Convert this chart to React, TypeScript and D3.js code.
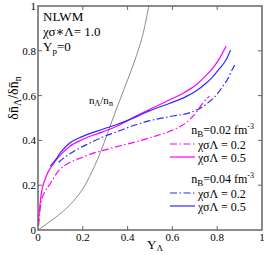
import * as d3 from "d3";

const xTicks = [0, 0.2, 0.4, 0.6, 0.8, 1];
const yTicks = [0, 0.2, 0.4, 0.6, 0.8, 1];
const xTickLabels = ["0", "0.2", "0.4", "0.6", "0.8", "1"];
const yTickLabels = ["0", "0.2", "0.4", "0.6", "0.8", "1"];

// n_B = 0.02, chi = 0.5 (magenta solid)
const magSolidX = [0.002, 0.013, 0.036, 0.065, 0.1, 0.14, 0.2, 0.289, 0.35, 0.45, 0.586, 0.65, 0.705, 0.75, 0.78, 0.81, 0.84];
const magSolidY = [0.04, 0.15, 0.238, 0.29, 0.335, 0.372, 0.405, 0.438, 0.462, 0.515, 0.58, 0.612, 0.647, 0.69, 0.722, 0.765, 0.821];
// n_B = 0.02, chi = 0.2 (magenta dash-dot)
const magDashX = [0.003, 0.013, 0.03, 0.05, 0.095, 0.14, 0.2, 0.244, 0.3, 0.363, 0.45, 0.52, 0.586, 0.64, 0.675, 0.71, 0.735, 0.765];
const magDashY = [0.02, 0.12, 0.17, 0.2, 0.268, 0.3, 0.325, 0.342, 0.358, 0.375, 0.397, 0.418, 0.44, 0.465, 0.491, 0.53, 0.565, 0.598];
// n_B = 0.04, chi = 0.5 (blue solid)
const blueSolidX = [0.055, 0.08, 0.1, 0.14, 0.2, 0.289, 0.35, 0.4375, 0.5, 0.586, 0.65, 0.705, 0.75, 0.78, 0.81, 0.839, 0.86];
const blueSolidY = [0.285, 0.315, 0.345, 0.387, 0.418, 0.45, 0.47, 0.505, 0.533, 0.565, 0.59, 0.62, 0.655, 0.684, 0.72, 0.759, 0.804];
// n_B = 0.04, chi = 0.2 (blue dash-dot)
const blueDashX = [0.092, 0.12, 0.17, 0.22, 0.289, 0.348, 0.4375, 0.5, 0.586, 0.69, 0.73, 0.765, 0.8, 0.824, 0.85, 0.869, 0.878];
const blueDashY = [0.302, 0.325, 0.357, 0.383, 0.415, 0.437, 0.47, 0.488, 0.506, 0.528, 0.547, 0.573, 0.607, 0.64, 0.68, 0.72, 0.737];
// n_Lambda / n_n (gray)
const ratioX = [0, 0.07, 0.14, 0.21, 0.25, 0.28, 0.31, 0.35, 0.4, 0.44, 0.47, 0.495];
const ratioY = [0, 0.05, 0.11, 0.2, 0.28, 0.35, 0.43, 0.54, 0.67, 0.78, 0.88, 1.0];

const W = 266;
const H = 255;
const L = 38, R = 262, T = 6, B = 230;
const FONT = "'Liberation Serif', 'DejaVu Serif', serif";
const MAG = "#ff00ff";
const BLUE = "#2a2aff";
const DASH = "7,2.5,1.5,2.5";

export default function App() {
  const x = d3.scaleLinear().domain([0, 1]).range([L, R]);
  const y = d3.scaleLinear().domain([0, 1]).range([B, T]);
  const line = d3
    .line<[number, number]>()
    .x((d) => x(d[0]))
    .y((d) => y(d[1]))
    .curve(d3.curveMonotoneX);
  const pts = (xs: number[], ys: number[]) => xs.map((v, i) => [v, ys[i]] as [number, number]);

  const series = [
    { xs: ratioX, ys: ratioY, color: "#707070", dash: undefined, w: 0.8 },
    { xs: magDashX, ys: magDashY, color: MAG, dash: DASH, w: 1.2 },
    { xs: blueDashX, ys: blueDashY, color: BLUE, dash: DASH, w: 1.2 },
    { xs: magSolidX, ys: magSolidY, color: MAG, dash: undefined, w: 1.2 },
    { xs: blueSolidX, ys: blueSolidY, color: BLUE, dash: undefined, w: 1.2 },
  ];

  const legend = [
    { head: "0.02", items: [{ color: MAG, dash: DASH, v: "0.2" }, { color: MAG, dash: undefined, v: "0.5" }], top: 134 },
    { head: "0.04", items: [{ color: BLUE, dash: DASH, v: "0.2" }, { color: BLUE, dash: undefined, v: "0.5" }], top: 183 },
  ];

  const axisColor = "#666";

  return (
    <svg width={W} height={H} style={{ position: "absolute", left: 0, top: 0, background: "#fff" }} fontFamily={FONT}>
      <defs>
        <clipPath id="plot">
          <rect x={L} y={T} width={R - L} height={B - T} />
        </clipPath>
      </defs>
      <g clipPath="url(#plot)">
        {series.map((s, i) => (
          <path key={i} d={line(pts(s.xs, s.ys)) || ""} fill="none" stroke={s.color} strokeWidth={s.w} strokeDasharray={s.dash} />
        ))}
      </g>
      <rect x={L} y={T} width={R - L} height={B - T} fill="none" stroke={axisColor} strokeWidth={1.5} />
      {xTicks.slice(1, -1).map((t) => (
        <g key={"xt" + t}>
          <line x1={x(t)} x2={x(t)} y1={B} y2={B - 4} stroke={axisColor} />
          <line x1={x(t)} x2={x(t)} y1={T} y2={T + 4} stroke={axisColor} />
        </g>
      ))}
      {yTicks.slice(1, -1).map((t) => (
        <g key={"yt" + t}>
          <line x1={L} x2={L + 4} y1={y(t)} y2={y(t)} stroke={axisColor} />
          <line x1={R} x2={R - 4} y1={y(t)} y2={y(t)} stroke={axisColor} />
        </g>
      ))}
      {xTicks.map((t, i) => (
        <text key={"xl" + t} x={x(t)} y={B + 11} fontSize={11} textAnchor="middle">
          {xTickLabels[i]}
        </text>
      ))}
      {yTicks.map((t, i) => (
        <text key={"yl" + t} x={L - 2} y={y(t) + 4} fontSize={11} textAnchor="end">
          {yTickLabels[i]}
        </text>
      ))}
      <text x={147} y={249} fontSize={13}>
        Y<tspan fontSize={9} dy={2}>Λ</tspan>
      </text>
      <text transform="translate(18,98) rotate(-90)" fontSize={14} textAnchor="middle">
        δn̄<tspan fontSize={10} dy={3}>Λ</tspan>
        <tspan dy={-3}>/δn̄</tspan>
        <tspan fontSize={10} dy={3}>n</tspan>
      </text>
      <text x={43} y={21} fontSize={13}>NLWM</text>
      <text x={43} y={36} fontSize={13}>χσ∗Λ= 1.0</text>
      <text x={43} y={51} fontSize={13}>
        Y<tspan fontSize={9} dy={3}>p</tspan>
        <tspan dy={-3}>=0</tspan>
      </text>
      <text x={89} y={104} fontSize={11}>
        n<tspan fontSize={8} dy={2}>Λ</tspan>
        <tspan dy={-2}>/n</tspan>
        <tspan fontSize={8} dy={2}>n</tspan>
      </text>
      {legend.map((g) => (
        <g key={g.head}>
          <text x={254} y={g.top} fontSize={12} textAnchor="end">
            n<tspan fontSize={9} dy={3}>B</tspan>
            <tspan dy={-3}>={g.head} fm</tspan>
            <tspan fontSize={8} dy={-5}>-3</tspan>
          </text>
          {g.items.map((it, j) => (
            <g key={j}>
              <line x1={170} x2={195} y1={g.top + 10 + j * 13} y2={g.top + 10 + j * 13} stroke={it.color} strokeWidth={1.2} strokeDasharray={it.dash} />
              <text x={198} y={g.top + 15 + j * 13} fontSize={12}>
                χσΛ = {it.v}
              </text>
            </g>
          ))}
        </g>
      ))}
    </svg>
  );
}
